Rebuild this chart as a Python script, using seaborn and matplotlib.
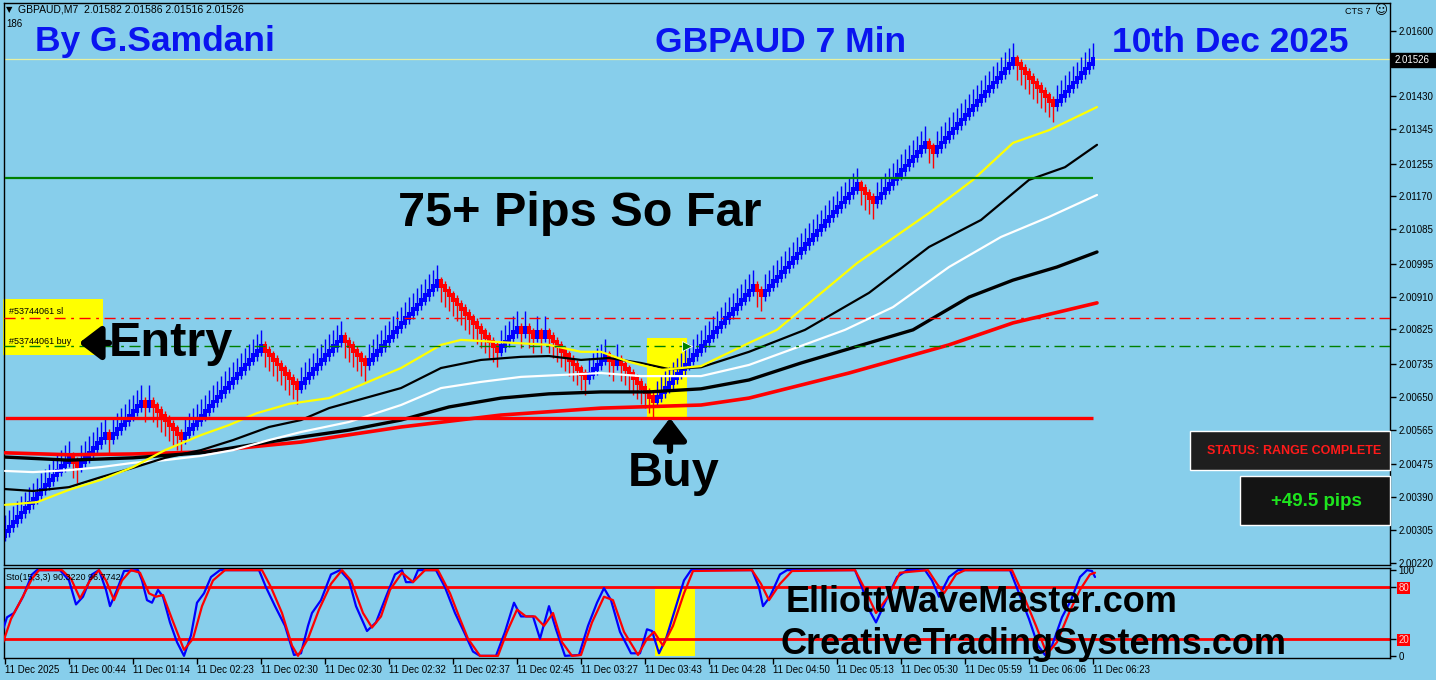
import numpy as np
import pandas as pd
import matplotlib
matplotlib.use("Agg")
import matplotlib.pyplot as plt
from matplotlib.patches import Rectangle
import seaborn as sns

# ---------------- data ----------------
symbol = "GBPAUD,M7"
ohlc_last = [2.01582, 2.01586, 2.01516, 2.01526]
last_close = 2.01526
brick = 0.00012

# renko runs: + = blue bricks up, - = red bricks down
brick_runs = [17, -2, 7, -1, 8,
              -1, 1, -8,
              20, -9, 11, -6, 18, -15, 5,
              -1, 1, -2, 1, -1, 1, -1,
              -9, 5, -2, 1, -9,
              25, -2, 24, -4, 13, -2, 20, -10, 10]

# moving averages (bar number, price)
ma_yellow_bar = [0, 8, 16, 24, 32, 40, 49, 56, 63, 71, 81, 89, 99, 109, 114, 124, 136, 144,
                 149, 156, 164, 174, 186, 193, 213, 231, 242, 252, 261, 273]
ma_yellow = [2.00370, 2.00377, 2.00409, 2.00435, 2.00468, 2.00512, 2.00551, 2.00577, 2.00608,
             2.00632, 2.00647, 2.00681, 2.00725, 2.00785, 2.00798, 2.00792, 2.00785, 2.00767,
             2.00767, 2.00741, 2.00720, 2.00730, 2.00790, 2.00824, 2.00997, 2.01127, 2.01213,
             2.01309, 2.01342, 2.01402]
ma_black1_bar = [0, 7, 16, 24, 32, 40, 49, 57, 66, 74, 81, 90, 99, 109, 119, 129, 136, 144, 151,
                 159, 166, 174, 186, 200, 216, 231, 244, 256, 265, 273]
ma_black1 = [2.00411, 2.00406, 2.00416, 2.00442, 2.00466, 2.00492, 2.00512, 2.00538, 2.00572,
             2.00590, 2.00621, 2.00647, 2.00673, 2.00725, 2.00746, 2.00754, 2.00756, 2.00746,
             2.00751, 2.00738, 2.00722, 2.00727, 2.00767, 2.00824, 2.00920, 2.01039, 2.01109,
             2.01213, 2.01246, 2.01304]
ma_white_bar = [0, 7, 16, 24, 32, 40, 49, 57, 66, 74, 86, 99, 109, 119, 129, 139, 149, 159, 174,
                186, 210, 222, 236, 249, 261, 273]
ma_white = [2.00458, 2.00455, 2.00460, 2.00468, 2.00479, 2.00486, 2.00497, 2.00512, 2.00538,
            2.00559, 2.00585, 2.00629, 2.00673, 2.00689, 2.00702, 2.00707, 2.00712, 2.00704,
            2.00704, 2.00733, 2.00824, 2.00883, 2.00987, 2.01065, 2.01117, 2.01174]
ma_black2_bar = [0, 16, 32, 49, 66, 74, 86, 99, 111, 124, 136, 149, 161, 174, 186, 199, 227, 241,
                 252, 263, 273]
ma_black2 = [2.00494, 2.00486, 2.00492, 2.00505, 2.00533, 2.00546, 2.00564, 2.00590, 2.00624,
             2.00647, 2.00658, 2.00663, 2.00663, 2.00671, 2.00694, 2.00738, 2.00824, 2.00909,
             2.00953, 2.00987, 2.01026]
ma_red_bar = [0, 16, 32, 49, 66, 74, 99, 124, 149, 174, 186, 211, 236, 252, 273]
ma_red = [2.00505, 2.00500, 2.00502, 2.00507, 2.00525, 2.00533, 2.00572, 2.00603, 2.00621,
          2.00629, 2.00647, 2.00712, 2.00785, 2.00842, 2.00894]

support_level = 2.00595
green_level = 2.01218
sl_level = 2.00855
buy_level = 2.00782
buy_zone_bars = (160.5, 170.5)
buy_zone_prices = (2.00595, 2.00803)

# stochastic (15,3,3)
sto_k_bar = [-0.75, 0.5, 2.25, 4.5, 6.75, 8, 13.75, 16, 17.75, 19.5, 21.75, 23.5, 25.25, 26.25,
             28, 29.75, 33.25, 34.25, 35.5, 36.75, 38.25, 39.5, 41.25, 43, 44.75, 46.5, 48,
             49.75, 51.5, 53.75, 63.5, 65.25, 67.5, 70, 72.25, 74, 75.75, 76.75, 79, 81.5,
             83.75, 86, 87.75, 90.5, 92.75, 95.25, 97.5, 99.25, 100.25, 102, 103.25, 107.75,
             110, 112.5, 114.75, 117, 118.75, 122.75, 125, 127.25, 129, 132, 133.75, 136,
             137.75, 140, 143.5, 145.75, 148, 149.75, 151.5, 153.75, 156.5, 158.75, 160.5,
             161.75, 163.5, 165.25, 167.5, 169.75, 171.5, 186.75, 188.5, 189.5, 191.25,
             193.75, 195.5, 212.5, 214.25, 216, 217.75, 220, 223, 225.5, 230, 231.75, 233.5,
             236, 238.25, 251.25, 253.5, 256, 258.25, 260, 261.75, 264.25, 266.5, 268.75,
             270.5, 271.75, 272.5]
sto_k = [27, 45, 50, 69, 95, 100, 100, 88, 60, 69, 95, 100, 77, 58, 77, 99, 100, 88, 65, 62, 77,
         69, 39, 16, 0, 24, 62, 73, 92, 100, 100, 80, 58, 35, 1, 3, 35, 50, 65, 95, 100, 88, 58,
         29, 39, 69, 95, 100, 86, 86, 100, 100, 80, 50, 28, 5, 0, 0, 28, 62, 46, 46, 20, 58,
         31, 0, 1, 35, 62, 79, 65, 28, 3, 3, 31, 29, 3, 20, 54, 88, 100, 100, 80, 58, 69, 95,
         100, 100, 80, 54, 39, 62, 92, 100, 100, 88, 69, 92, 100, 100, 73, 43, 12, 1, 12, 45,
         65, 92, 100, 99, 92]
sto_d_bar = [-0.75, 1.5, 4, 6.75, 8.5, 14.25, 16.5, 18.75, 21.25, 23.5, 25.25, 27.25, 29.25,
             31.5, 33.75, 36, 37.75, 39.5, 41.75, 44.75, 47, 49.25, 52, 55, 64.25, 66.5, 69.25,
             71.75, 73.25, 75.75, 78.5, 81.5, 84.25, 86.5, 89.5, 91.75, 94, 96.25, 99.25, 102,
             105, 108.25, 111.25, 113.5, 115.75, 118.75, 123.25, 125.5, 128, 130.25, 132.5,
             134.75, 137, 139.25, 141.75, 144, 146.75, 149.75, 152, 154.75, 158.25, 160.5,
             162.25, 164.5, 167, 169.75, 172, 186.75, 189, 191, 193.75, 196.75, 212.5, 214.75,
             217.75, 220.75, 223.75, 230.75, 233, 234.75, 237.75, 240, 251.75, 254.75, 257.75,
             260.5, 263, 266, 268.75, 271.25, 272.5]
sto_d = [12, 43, 65, 90, 100, 100, 90, 67, 88, 100, 88, 65, 88, 100, 97, 73, 69, 71, 43, 7, 20,
         58, 88, 100, 100, 80, 50, 12, 0, 20, 54, 84, 100, 88, 50, 33, 46, 77, 97, 86, 100, 100,
         73, 46, 20, 0, 0, 28, 54, 46, 46, 35, 50, 16, 0, 1, 39, 69, 65, 28, 1, 20, 28, 12, 35,
         73, 99, 100, 84, 65, 84, 99, 100, 80, 50, 69, 97, 100, 84, 73, 95, 100, 100, 69, 35, 2,
         16, 50, 77, 95, 97]
sto_zone_bars = (162.5, 172.5)

price_ticks = [2.01600, 2.01515, 2.01430, 2.01345, 2.01255, 2.01170, 2.01085, 2.00995,
               2.00910, 2.00825, 2.00735, 2.00650, 2.00565, 2.00475, 2.00390, 2.00305, 2.00220]
time_tick_bars = list(range(0, 273, 16))
time_labels = ["11 Dec 2025", "11 Dec 00:44", "11 Dec 01:14", "11 Dec 02:23", "11 Dec 02:30",
               "11 Dec 02:30", "11 Dec 02:32", "11 Dec 02:37", "11 Dec 02:45", "11 Dec 03:27",
               "11 Dec 03:43", "11 Dec 04:28", "11 Dec 04:50", "11 Dec 05:13", "11 Dec 05:30",
               "11 Dec 05:59", "11 Dec 06:06", "11 Dec 06:23"]

# ---------------- build bricks ----------------
steps = np.concatenate([np.full(abs(r), np.sign(r)) for r in brick_runs])
net = steps.cumsum()
close = last_close - (net[-1] - net) * brick
open_ = close - steps * brick
bars = pd.DataFrame({"bar": np.arange(len(steps)), "open": open_, "close": close, "dir": steps})
bars["high"] = np.where(bars.dir > 0, bars.close + 3.5 * brick, bars.open + 1 * brick)
bars["low"] = np.where(bars.dir > 0, bars.open - 1.2 * brick, bars.close - 3.5 * brick)
bars["color"] = np.where(bars.dir > 0, "#0000ff", "#ff0000")

# ---------------- figure ----------------
sns.set_style("ticks")
plt.rcParams["font.family"] = ["Liberation Sans", "DejaVu Sans"]
plt.rcParams["text.color"] = "black"
plt.rcParams["xtick.color"] = "black"
plt.rcParams["ytick.color"] = "black"
plt.rcParams["xtick.labelcolor"] = "black"
plt.rcParams["ytick.labelcolor"] = "black"
SKY = "#87ceeb"
W, H = 1436, 680


def box(x0, y0, x1, y1):
    return [x0 / W, 1 - y1 / H, (x1 - x0) / W, (y1 - y0) / H]


def fp(x, y):
    return x / W, 1 - y / H


fig = plt.figure(figsize=(W / 100, H / 100), dpi=100, facecolor=SKY)
ax = fig.add_axes(box(4, 3, 1390, 565))
ax2 = fig.add_axes(box(4, 568, 1390, 658))
for a in (ax, ax2):
    a.set_facecolor(SKY)
    a.set_xlim(-0.25, 346.25)
    for s in a.spines.values():
        s.set_color("black")
        s.set_linewidth(1)

ax.set_ylim(2.00214, 2.016719)

# buy zone highlight
ax.add_patch(Rectangle((buy_zone_bars[0], buy_zone_prices[0]), buy_zone_bars[1] - buy_zone_bars[0],
                       buy_zone_prices[1] - buy_zone_prices[0], color="#ffff00", zorder=0.5, lw=0))

# trade labels box
ax.add_patch(Rectangle(fp(3, 355), 100 / W, 56 / H, transform=fig.transFigure, color="#ffff00",
                       zorder=0.6, lw=0, clip_on=False))

# candles
ax.vlines(bars.bar, bars.low, bars.high, colors=bars.color, lw=1, zorder=2)
ax.bar(bars.bar, (bars.close - bars.open).abs() + 0.8 * brick,
       bottom=bars[["open", "close"]].min(axis=1) - 0.4 * brick,
       width=0.95, color=bars.color, linewidth=0, zorder=2.1)

# moving averages
for xs, ys, col, lw in [(ma_red_bar, ma_red, "#ff0000", 2.6),
                        (ma_black2_bar, ma_black2, "black", 2.4),
                        (ma_white_bar, ma_white, "white", 1.6),
                        (ma_black1_bar, ma_black1, "black", 1.6),
                        (ma_yellow_bar, ma_yellow, "#ffff00", 1.6)]:
    sns.lineplot(x=xs, y=ys, ax=ax, color=col, linewidth=lw, estimator=None, sort=False, zorder=3)

# levels
ax.hlines(support_level, 0, 272, color="#ff0000", lw=2.4, zorder=4)
ax.hlines(green_level, 0, 272, color="#008000", lw=1.6, zorder=4)
ax.axhline(sl_level, color="#ff0000", lw=1, ls=(0, (8, 4, 2, 4)), zorder=4)
ax.axhline(buy_level, color="#008000", lw=1, ls=(0, (8, 4, 2, 4)), zorder=4)
ax.axhline(last_close, color="#e8f0a0", lw=0.9, zorder=1.5)
ax.plot([buy_zone_bars[1]], [buy_level], marker=">", color="#008000", ms=7, mec="white", mew=0.6,
        zorder=5)

ax.yaxis.tick_right()
ax.set_yticks(price_ticks)
# the 2.01515 label sits under the current-price tag
ax.set_yticklabels(["" if p == 2.01515 else f"{p:.5f}" for p in price_ticks])
ax.tick_params(axis="y", direction="out", length=4, width=1, labelsize=7, pad=2)
ax.tick_params(axis="x", bottom=False, labelbottom=False)
ax.set_xlabel("")
ax.set_ylabel("")

# current price label
fig.add_artist(Rectangle(fp(1391, 67), 45 / W, 14 / H, transform=fig.transFigure, color="black",
                         zorder=20))
fig.text(*fp(1395, 60), f"{last_close:.5f}", color="white", fontsize=7, va="center", zorder=21)

# ---------------- stochastic ----------------
ax2.set_ylim(-2.5, 102.5)
ax2.add_patch(Rectangle((sto_zone_bars[0], 0), sto_zone_bars[1] - sto_zone_bars[0], 78,
                        color="#ffff00", lw=0, zorder=0.5))
ax2.axhline(80, color="#ff0000", lw=2, zorder=1)
ax2.axhline(20, color="#ff0000", lw=2, zorder=1)
sns.lineplot(x=sto_k_bar, y=sto_k, ax=ax2, color="#0000ff", linewidth=1.6, estimator=None,
             sort=False, zorder=3)
sns.lineplot(x=sto_d_bar, y=sto_d, ax=ax2, color="#ff0000", linewidth=1.6, estimator=None,
             sort=False, zorder=3.1)
ax2.yaxis.tick_right()
ax2.set_yticks([0, 20, 80, 100])
ax2.set_yticklabels(["0", "20", "80", "100"])
ax2.tick_params(axis="y", direction="out", length=4, width=1, labelsize=7, pad=2)
for lab in ax2.get_yticklabels():
    if lab.get_text() in ("20", "80"):
        lab.set_color("#ffd0d0")
        lab.set_bbox(dict(facecolor="#ff0000", edgecolor="none", pad=0.6))
ax2.set_xticks(time_tick_bars)
ax2.set_xticklabels(time_labels, ha="left")
ax2.tick_params(axis="x", direction="out", length=4, width=1, labelsize=7, pad=1)
ax2.set_xlabel("")
ax2.set_ylabel("")

# ---------------- texts ----------------
fig.text(*fp(6, 10), "\u25bc", fontsize=6, va="center", family=["DejaVu Sans"])
fig.text(*fp(18, 10), f"{symbol}  " + " ".join(f"{v:.5f}" for v in ohlc_last),
         fontsize=7.5, va="center")
fig.text(*fp(6, 24), "186", fontsize=7, va="center")
fig.text(*fp(1345, 11), "CTS 7", fontsize=6.5, va="center")
fig.text(*fp(1375, 11), "\u263a", fontsize=9, va="center", family=["DejaVu Sans"])
fig.text(*fp(6, 578), "Sto(15,3,3) 90.3220 96.7742", fontsize=6.5, va="center", zorder=10)

blue = "#0a14f0"
for x, t in [(35, "By G.Samdani"), (655, "GBPAUD 7 Min"), (1112, "10th Dec 2025")]:
    fig.text(*fp(x, 42), t, color=blue, fontsize=25.5, fontweight="bold", va="center")

fig.text(*fp(398, 214), "75+ Pips So Far", fontsize=35, fontweight="bold", va="center")
fig.text(*fp(109, 343), "Entry", fontsize=35, fontweight="bold", va="center", zorder=10)
fig.text(*fp(628, 473), "Buy", fontsize=35, fontweight="bold", va="center")
fig.text(*fp(9, 312), "#53744061 sl", fontsize=6.5, va="center", zorder=10)
fig.text(*fp(9, 341), "#53744061 buy", fontsize=6.5, va="center", zorder=10)

arrow_style = dict(arrowstyle="-|>,head_width=0.42,head_length=0.55", lw=4.5, color="black",
                   mutation_scale=24, shrinkA=0, shrinkB=0)
ax.annotate("", xy=(79, H - 343), xytext=(109, H - 343), xycoords="figure pixels",
            textcoords="figure pixels", arrowprops=arrow_style, zorder=10)
ax.annotate("", xy=(670, H - 418), xytext=(670, H - 451), xycoords="figure pixels",
            textcoords="figure pixels", arrowprops=arrow_style, zorder=10)

fig.text(*fp(786, 602), "ElliottWaveMaster.com", fontsize=26, fontweight="bold", va="center",
         zorder=10)
fig.text(*fp(780, 644), "CreativeTradingSystems.com", fontsize=26, fontweight="bold",
         va="center", zorder=10)

# status panels
fig.add_artist(Rectangle(fp(1190, 470), 200 / W, 39 / H, transform=fig.transFigure,
                         facecolor="#1e1e1e", edgecolor="white", lw=1, zorder=20))
fig.text(*fp(1294, 451), "STATUS: RANGE COMPLETE", color="#ff1a1a", fontsize=9,
         fontweight="bold", ha="center", va="center", zorder=21)
fig.add_artist(Rectangle(fp(1240, 525), 150 / W, 49 / H, transform=fig.transFigure,
                         facecolor="#141414", edgecolor="white", lw=1, zorder=20))
fig.text(*fp(1316, 501), "+49.5 pips", color="#1ee61e", fontsize=13.5, fontweight="bold",
         ha="center", va="center", zorder=21)

fig.savefig("out.png", dpi=100, facecolor=SKY)
